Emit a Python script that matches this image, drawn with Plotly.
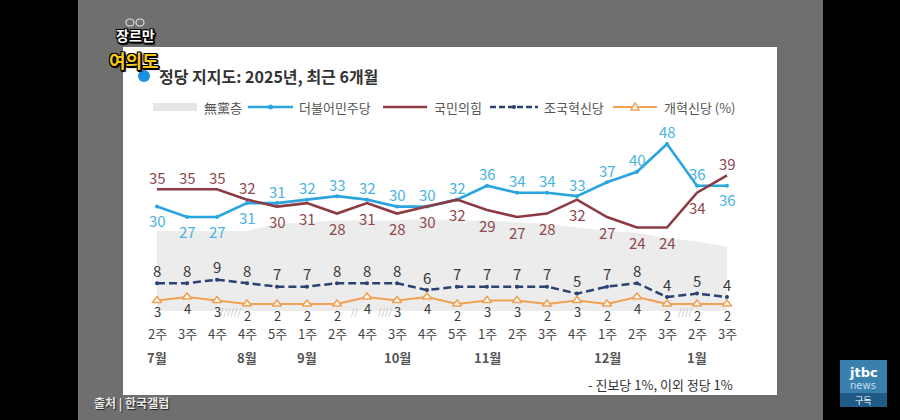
import plotly.graph_objects as go

# ---------------- data ----------------
weeks = ["2주", "3주", "4주", "4주", "5주", "1주", "2주", "4주", "3주", "4주",
         "5주", "1주", "2주", "3주", "4주", "1주", "2주", "3주", "2주", "3주"]
months = ["7월", "8월", "9월", "10월", "11월", "12월", "1월"]
month_idx = [0, 3, 5, 8, 11, 15, 18]

minjoo = [30, 27, 27, 31, 31, 32, 33, 32, 30, 30, 32, 36, 34, 34, 33, 37, 40, 48, 36, 36]
ppp = [35, 35, 35, 32, 30, 31, 28, 31, 28, 30, 32, 29, 27, 28, 32, 27, 24, 24, 34, 39]
rebuild = [8, 8, 9, 8, 7, 7, 8, 8, 8, 6, 7, 7, 7, 7, 5, 7, 8, 4, 5, 4]
reform = [3, 4, 3, 2, 2, 2, 2, 4, 3, 4, 2, 3, 3, 2, 3, 2, 4, 2, 2, 2]
nonparty = [23, 23, 23, 23, 25, 25.5, 26, 26, 26, 26.5, 26, 26, 25.5, 25, 24, 23, 22.5, 21, 20, 18.5]

series_names = ["無黨층", "더불어민주당", "국민의힘", "조국혁신당", "개혁신당 (%)"]

# label side: 1 = above, -1 = below
minjoo_side = [-1, -1, -1, -1, 1, 1, 1, 1, 1, 1, 1, 1, 1, 1, 1, 1, 1, 1, 1, -1]
ppp_side = [1, 1, 1, 1, -1, -1, -1, -1, -1, -1, -1, -1, -1, -1, -1, -1, -1, -1, -1, 1]
rebuild_side = [1] * 20
reform_side = [-1] * 20

# axis-break marks (between weeks)
break_pos = [2.47, 6.6, 7.6, 17.6]
break_txt = ["//////", "//", "////", "////"]

x = list(range(len(weeks)))

# ---------------- styles ----------------
W, H = 900, 420
C_BLUE = "#2ba5df"
C_BLUE_TXT = "#49b3e2"
C_RED = "#8c3b42"
C_RED_TXT = "#8e4a4c"
C_NAVY = "#2b4272"
C_ORANGE = "#f2a052"
C_GREY_AREA = "#ececec"
C_DARK_TXT = "#3a3a3a"
FONT = "Noto Sans CJK KR"

X0PX, XSTEP = 157, 30
Y0PX, YSCALE = 311, 3.48


def P(px):
    return px / W


def Q(py):
    return 1 - py / H


fig = go.Figure()

fig.add_trace(go.Scatter(x=x, y=nonparty, mode="lines", fill="tozeroy",
                         fillcolor=C_GREY_AREA, line=dict(width=0),
                         name=series_names[0], hoverinfo="skip"))
fig.add_trace(go.Scatter(x=x, y=reform, mode="lines+markers", name=series_names[4],
                         line=dict(color=C_ORANGE, width=2),
                         marker=dict(symbol="triangle-up", size=8, color="white",
                                     line=dict(color=C_ORANGE, width=1.5))))
fig.add_trace(go.Scatter(x=x, y=rebuild, mode="lines+markers", name=series_names[3],
                         line=dict(color=C_NAVY, width=2.5, dash="8px,4px"),
                         marker=dict(symbol="circle", size=4, color=C_NAVY)))
fig.add_trace(go.Scatter(x=x, y=minjoo, mode="lines+markers", name=series_names[1],
                         line=dict(color=C_BLUE, width=2.6),
                         marker=dict(symbol="circle", size=4, color=C_BLUE)))
fig.add_trace(go.Scatter(x=x, y=ppp, mode="lines", name=series_names[2],
                         line=dict(color=C_RED, width=2.6)))

annotations = []


def add_labels(vals, sides, color, up=12, down=14, size=15):
    for i, (v, s) in enumerate(zip(vals, sides)):
        annotations.append(dict(x=i, y=v, xref="x", yref="y", text=str(v),
                                showarrow=False, xanchor="center", yanchor="middle",
                                yshift=up if s > 0 else -down, borderpad=0,
                                font=dict(family=FONT, size=size, color=color)))


add_labels(minjoo, minjoo_side, C_BLUE_TXT)
add_labels(ppp, ppp_side, C_RED_TXT, up=12, down=15)
add_labels(rebuild, rebuild_side, C_DARK_TXT, up=13)
add_labels(reform, reform_side, C_DARK_TXT, down=11, size=13)

# x labels
for i, wk in enumerate(weeks):
    annotations.append(dict(x=i, y=Q(333), xref="x", yref="paper", text=wk,
                            showarrow=False, xanchor="center", yanchor="middle", borderpad=0,
                            font=dict(family=FONT, size=13, color="#444")))
for mi, m in zip(month_idx, months):
    annotations.append(dict(x=mi, y=Q(357), xref="x", yref="paper", text=m,
                            showarrow=False, xanchor="center", yanchor="middle", borderpad=0,
                            font=dict(family=FONT, size=13, color="#555", weight=600)))
for bp, bt in zip(break_pos, break_txt):
    annotations.append(dict(x=bp, y=Q(311), xref="x", yref="paper", text=bt,
                            showarrow=False, xanchor="center", yanchor="middle", borderpad=0,
                            font=dict(family=FONT, size=9, color="#b8b8b8")))

# title
annotations.append(dict(x=P(157), y=Q(76), xref="paper", yref="paper",
                        text="<b>정당 지지도: 2025년, 최근 6개월</b>", showarrow=False,
                        xanchor="left", yanchor="middle",
                        font=dict(family=FONT, size=16, color="#333")))

# legend texts
leg_text_x = [202, 297, 432, 542, 662]
for tx, nm in zip(leg_text_x, series_names):
    annotations.append(dict(x=P(tx), y=Q(107), xref="paper", yref="paper", text=nm,
                            showarrow=False, xanchor="left", yanchor="middle",
                            font=dict(family=FONT, size=13, color="#555")))

# footnote / source
annotations.append(dict(x=P(735), y=Q(384), xref="paper", yref="paper",
                        text="- 진보당 1%, 이외 정당 1%", showarrow=False,
                        xanchor="right", yanchor="middle",
                        font=dict(family=FONT, size=13, color="#333")))
annotations.append(dict(x=P(92), y=Q(403), xref="paper", yref="paper",
                        text="<b>출처 | 한국갤럽</b>", showarrow=False,
                        xanchor="left", yanchor="middle",
                        font=dict(family=FONT, size=12, color="#e8e8e8",
                                  shadow="1px 1px 1px #222")))

# show logo
outline = ("-1px -1px 0 #000, 1px -1px 0 #000, -1px 1px 0 #000, 1px 1px 0 #000, "
           "0 2px 0 #000, 2px 0 0 #000, 2px 2px 1px #000")
annotations.append(dict(x=P(135), y=Q(35), xref="paper", yref="paper", text="<b>장르만</b>",
                        showarrow=False, xanchor="center", yanchor="middle", borderpad=0,
                        font=dict(family=FONT, size=14, color="white", shadow=outline)))
annotations.append(dict(x=P(134), y=Q(60), xref="paper", yref="paper", text="<b>여의도</b>",
                        showarrow=False, xanchor="center", yanchor="middle", borderpad=0,
                        font=dict(family=FONT, size=18, color="#f7c81a", shadow=outline)))
# jtbc logo
annotations.append(dict(x=P(863), y=Q(372), xref="paper", yref="paper", text="<b>jtbc</b>",
                        showarrow=False, xanchor="center", yanchor="middle",
                        font=dict(family="DejaVu Sans", size=13, color="white")))
annotations.append(dict(x=P(863), y=Q(385), xref="paper", yref="paper", text="news",
                        showarrow=False, xanchor="center", yanchor="middle",
                        font=dict(family="DejaVu Sans", size=10, color="#c9dced")))
annotations.append(dict(x=P(863), y=Q(400), xref="paper", yref="paper", text="구독",
                        showarrow=False, xanchor="center", yanchor="middle",
                        font=dict(family=FONT, size=9, color="white")))

shapes = []


def rect(x0, y0, x1, y1, color, layer="below"):
    shapes.append(dict(type="rect", xref="paper", yref="paper", x0=P(x0), x1=P(x1),
                       y0=Q(y1), y1=Q(y0), fillcolor=color, line=dict(width=0), layer=layer))


# background frame
rect(78, 0, 823, 420, "#6f6f6f")
rect(123, 47, 777, 395, "#ffffff")
# title dot
shapes.append(dict(type="circle", xref="paper", yref="paper", x0=P(138), x1=P(150),
                   y0=Q(82), y1=Q(70), fillcolor="#1c8fe3", line=dict(width=0), layer="below"))
# legend symbols
rect(153, 103, 197, 111, "#e6e6e6", layer="above")


def hline(x0, x1, y, color, width, dash="solid"):
    shapes.append(dict(type="line", xref="paper", yref="paper", x0=P(x0), x1=P(x1),
                       y0=Q(y), y1=Q(y), line=dict(color=color, width=width, dash=dash)))


hline(248, 293, 107, C_BLUE, 2.5)
shapes.append(dict(type="circle", xref="paper", yref="paper", x0=P(268), x1=P(273),
                   y0=Q(109.5), y1=Q(104.5), fillcolor=C_BLUE, line=dict(width=0)))
hline(383, 427, 107, C_RED, 2.5)
hline(490, 538, 107, C_NAVY, 2.5, dash="6px,3px")
shapes.append(dict(type="circle", xref="paper", yref="paper", x0=P(512), x1=P(516),
                   y0=Q(109), y1=Q(105), fillcolor=C_NAVY, line=dict(width=0)))
hline(613, 657, 107, C_ORANGE, 2)
shapes.append(dict(type="path", xref="paper", yref="paper",
                   path=f"M {P(631)},{Q(110)} L {P(639)},{Q(110)} L {P(635)},{Q(103)} Z",
                   fillcolor="white", line=dict(color=C_ORANGE, width=1.5)))
# jtbc box
rect(840, 360, 887, 393, "#3a80ae", layer="above")
rect(840, 393, 887, 407, "#1f5b86", layer="above")
# glasses icon
for cx in (130, 140):
    shapes.append(dict(type="circle", xref="paper", yref="paper", x0=P(cx - 4), x1=P(cx + 4),
                       y0=Q(26), y1=Q(19), fillcolor="rgba(0,0,0,0)",
                       line=dict(color="#ddd", width=1.2)))

fig.update_layout(
    width=W, height=H,
    margin=dict(l=0, r=0, t=0, b=0),
    paper_bgcolor="#000000",
    plot_bgcolor="rgba(0,0,0,0)",
    showlegend=False,
    xaxis=dict(range=[-X0PX / XSTEP, (W - X0PX) / XSTEP], visible=False, fixedrange=True),
    yaxis=dict(range=[-(H - Y0PX) / YSCALE, Y0PX / YSCALE], visible=False, fixedrange=True),
    annotations=annotations,
    shapes=shapes,
    font=dict(family=FONT),
)

fig.write_html("out.html", config={"displayModeBar": False},
               post_script="document.body.style.margin='0';document.body.style.overflow='hidden';")
